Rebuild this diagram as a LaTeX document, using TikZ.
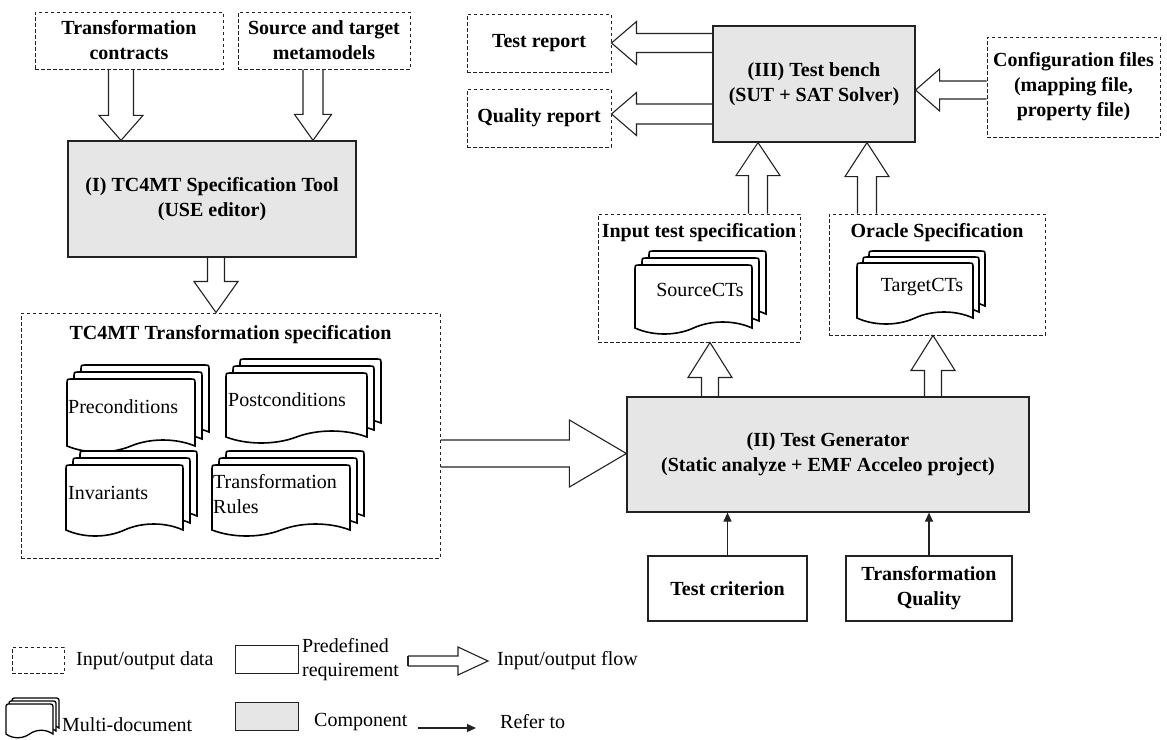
\documentclass[tikz,border=0pt]{standalone}
\usepackage{fontspec}
\setmainfont{Liberation Serif}
\usetikzlibrary{calc,arrows.meta}
\definecolor{compgray}{HTML}{E6E6E6}
\definecolor{lin}{HTML}{222222}
\tikzset{
 base/.style={draw=lin, line width=1.2pt, inner sep=0pt, align=center, font=\fontsize{20}{25}\selectfont\bfseries},
 iobox/.style={base, dash pattern=on 3.5pt off 2.5pt, line width=1pt},
 comp/.style={base, fill=compgray},
 req/.style={base},
 flow/.style={draw=lin, line width=1.1pt, line join=miter},
 refer/.style={draw=lin, line width=1.2pt, -{Triangle[length=9pt,width=8pt]}},
 docline/.style={draw=black, line width=1.6pt, fill=white},
 doclabel/.style={font=\fontsize{20}{25}\selectfont, inner sep=0pt, align=left},
 legend/.style={font=\fontsize{20}{24}\selectfont, inner sep=0pt, anchor=west, align=left},
 boxtitle/.style={font=\fontsize{20}{25}\selectfont\bfseries, inner sep=0pt},
}
% one page of a document shape: x y w h wave
\newcommand\docpage[5]{%
 \draw[docline] ({#1},{#2+#4}) -- ({#1},{#2+5}) .. controls ({#1},{#2}) .. ({#1+5},{#2})
  -- ({#1+#3-5},{#2}) .. controls ({#1+#3},{#2}) .. ({#1+#3},{#2+5})
  -- ({#1+#3},{#2+#4})
  .. controls ({#1+0.85*#3},{#2+#4-#5}) and ({#1+0.65*#3},{#2+#4-#5}) .. ({#1+0.5*#3},{#2+#4})
  .. controls ({#1+0.35*#3},{#2+#4+#5}) and ({#1+0.15*#3},{#2+#4+#5}) .. ({#1},{#2+#4}) -- cycle;}
% multi-document: x y w h offset wave
\newcommand\mdoc[6]{%
 \docpage{#1+2*#5}{#2-2*#5}{#3}{#4}{#6}%
 \docpage{#1+#5}{#2-#5}{#3}{#4}{#6}%
 \docpage{#1}{#2}{#3}{#4}{#6}}
% hollow block arrow: start end shafthalf headhalf headlen
\newcommand\flowarrow[5]{%
 \coordinate (fab) at ($(#2)!#5!(#1)$);
 \draw[flow] ($(#1)!#3!90:(#2)$) -- ($(fab)!#3!-90:(#1)$) -- ($(fab)!#4!-90:(#1)$) -- (#2)
  -- ($(fab)!#4!90:(#1)$) -- ($(fab)!#3!90:(#1)$) -- ($(#1)!#3!-90:(#2)$);}
\begin{document}
\begin{tikzpicture}[x=1pt,y=-1pt]
\useasboundingbox (0,0) rectangle (1167,739);
% ---------- nodes ----------
\node[iobox, minimum width=188pt, minimum height=57pt] (contracts) at (129,40.5) {Transformation\\contracts};
\node[iobox, minimum width=172pt, minimum height=57pt] (metamodels) at (324,40.5) {Source and target\\metamodels};
\node[comp, minimum width=288pt, minimum height=116pt] (spectool) at (212,199) {(I) TC4MT Specification Tool\\(USE editor)};
\node[iobox, minimum width=419pt, minimum height=245pt] (tcspec) at (230.5,435.5) {};
\node[boxtitle] (tcspectitle) at (230.5,335) {TC4MT Transformation specification};
\node[comp, minimum width=402pt, minimum height=115pt] (testgen) at (828,454.5) {(II) Test Generator\\(Static analyze + EMF Acceleo project)};
\node[iobox, minimum width=202pt, minimum height=128pt] (inputspec) at (699,278) {};
\node[boxtitle] (inputspectitle) at (699,233) {Input test specification};
\node[iobox, minimum width=216pt, minimum height=121pt] (oraclespec) at (937,274.5) {};
\node[boxtitle] (oraclespectitle) at (937,233) {Oracle Specification};
\node[comp, minimum width=202pt, minimum height=116pt] (testbench) at (814,84) {(III) Test bench\\(SUT + SAT Solver)};
\node[iobox, minimum width=144pt, minimum height=58pt] (testreport) at (539,43) {Test report};
\node[iobox, minimum width=144pt, minimum height=58pt] (qualityreport) at (539,118) {Quality report};
\node[iobox, minimum width=173pt, minimum height=100pt] (config) at (1073.5,87) {Configuration files\\(mapping file,\\property file)};
\node[req, minimum width=159pt, minimum height=65pt] (criterion) at (727.5,588.5) {Test criterion};
\node[req, minimum width=166pt, minimum height=65pt] (tquality) at (929,588.5) {Transformation\\Quality};
% ---------- documents ----------
\mdoc{67}{379}{128}{67}{7}{8}
\node[doclabel, anchor=west] (pre) at (68,407) {Preconditions};
\mdoc{226}{373}{141}{64}{7}{8}
\node[doclabel, anchor=west] (post) at (228,400) {Postconditions};
\mdoc{66}{465}{117}{65}{7}{8}
\node[doclabel, anchor=west] (inv) at (68,493) {Invariants};
\mdoc{212}{465}{138}{65}{7}{8}
\node[doclabel, anchor=west] (rules) at (213,494.5) {Transformation\\Rules};
\mdoc{635}{265}{117}{63}{7}{8}
\node[doclabel] (srccts) at (700,290) {SourceCTs};
\mdoc{857}{263}{116}{55}{6}{8}
\node[doclabel] (tgtcts) at (922,287) {TargetCTs};
% ---------- flow arrows ----------
\coordinate (a1s) at ($(contracts.south)+(-8,0)$);
\coordinate (a1e) at (a1s |- spectool.north);
\flowarrow{a1s}{a1e}{12.5pt}{22pt}{25pt}
\coordinate (a2s) at ($(metamodels.south)+(-11,0)$);
\coordinate (a2e) at (a2s |- spectool.north);
\flowarrow{a2s}{a2e}{10pt}{18.5pt}{26pt}
\coordinate (a3s) at ($(spectool.south)+(4,0)$);
\coordinate (a3e) at (a3s |- tcspec.north);
\flowarrow{a3s}{a3e}{8.5pt}{22pt}{31pt}
\coordinate (a4s) at ($(tcspec.east)+(0,18)$);
\coordinate (a4e) at (a4s -| testgen.west);
\flowarrow{a4s}{a4e}{13.5pt}{33.5pt}{57pt}
\coordinate (a5s) at ($(testgen.north)+(-118,0)$);
\coordinate (a5e) at (a5s |- inputspec.south);
\flowarrow{a5s}{a5e}{8.5pt}{22pt}{35pt}
\coordinate (a6s) at ($(testgen.north)+(105,0)$);
\coordinate (a6e) at (a6s |- oraclespec.south);
\flowarrow{a6s}{a6e}{8.5pt}{22pt}{35pt}
\coordinate (a7s) at ($(inputspec.north)+(59,0)$);
\coordinate (a7e) at (a7s |- testbench.south);
\flowarrow{a7s}{a7e}{9.5pt}{22pt}{33pt}
\coordinate (a8s) at ($(oraclespec.north)+(-70,0)$);
\coordinate (a8e) at (a8s |- testbench.south);
\flowarrow{a8s}{a8e}{9.5pt}{22pt}{34pt}
\coordinate (a9s) at ($(testbench.west)+(0,-41)$);
\coordinate (a9e) at (a9s -| testreport.east);
\flowarrow{a9s}{a9e}{9.5pt}{21.5pt}{25pt}
\coordinate (a10s) at ($(testbench.west)+(0,30)$);
\coordinate (a10e) at (a10s -| qualityreport.east);
\flowarrow{a10s}{a10e}{10pt}{21.5pt}{25pt}
\coordinate (a11s) at ($(config.west)+(0,3)$);
\coordinate (a11e) at (a11s -| testbench.east);
\flowarrow{a11s}{a11e}{9pt}{21pt}{24pt}
% ---------- refer arrows ----------
\draw[refer] (criterion.north) -- (criterion.north |- testgen.south);
\draw[refer] (tquality.north) -- (tquality.north |- testgen.south);
% ---------- legend ----------
\node[iobox, line width=0.9pt, minimum width=52pt, minimum height=26pt] (lgio) at (38,660) {};
\node[legend] (lgiot) at (76,661) {Input/output data};
\node[req, line width=1pt, minimum width=63pt, minimum height=28pt] (lgreq) at (266.5,659) {};
\node[legend] (lgreqt) at (302,660) {Predefined\\requirement};
\coordinate (lfs) at (408,661);
\coordinate (lfe) at (488,661);
\flowarrow{lfs}{lfe}{5pt}{14pt}{30pt}
\draw[flow] ($(lfs)!5pt!90:(lfe)$) -- ($(lfs)!5pt!-90:(lfe)$);
\node[legend] (lgflowt) at (497,661) {Input/output flow};
\begin{scope}[docline/.append style={line width=1.3pt}]
\mdoc{6}{704}{47}{30}{3}{5}
\end{scope}
\node[legend] (lgdoct) at (62,725) {Multi-document};
\node[comp, line width=1pt, minimum width=63pt, minimum height=28pt] (lgcomp) at (266.5,716) {};
\node[legend] (lgcompt) at (314,722) {Component};
\coordinate (lrs) at (418,728);
\coordinate (lre) at (476,728);
\draw[refer] (lrs) -- (lre);
\node[legend] (lgrefert) at (500,722) {Refer to};
\end{tikzpicture}
\end{document}
